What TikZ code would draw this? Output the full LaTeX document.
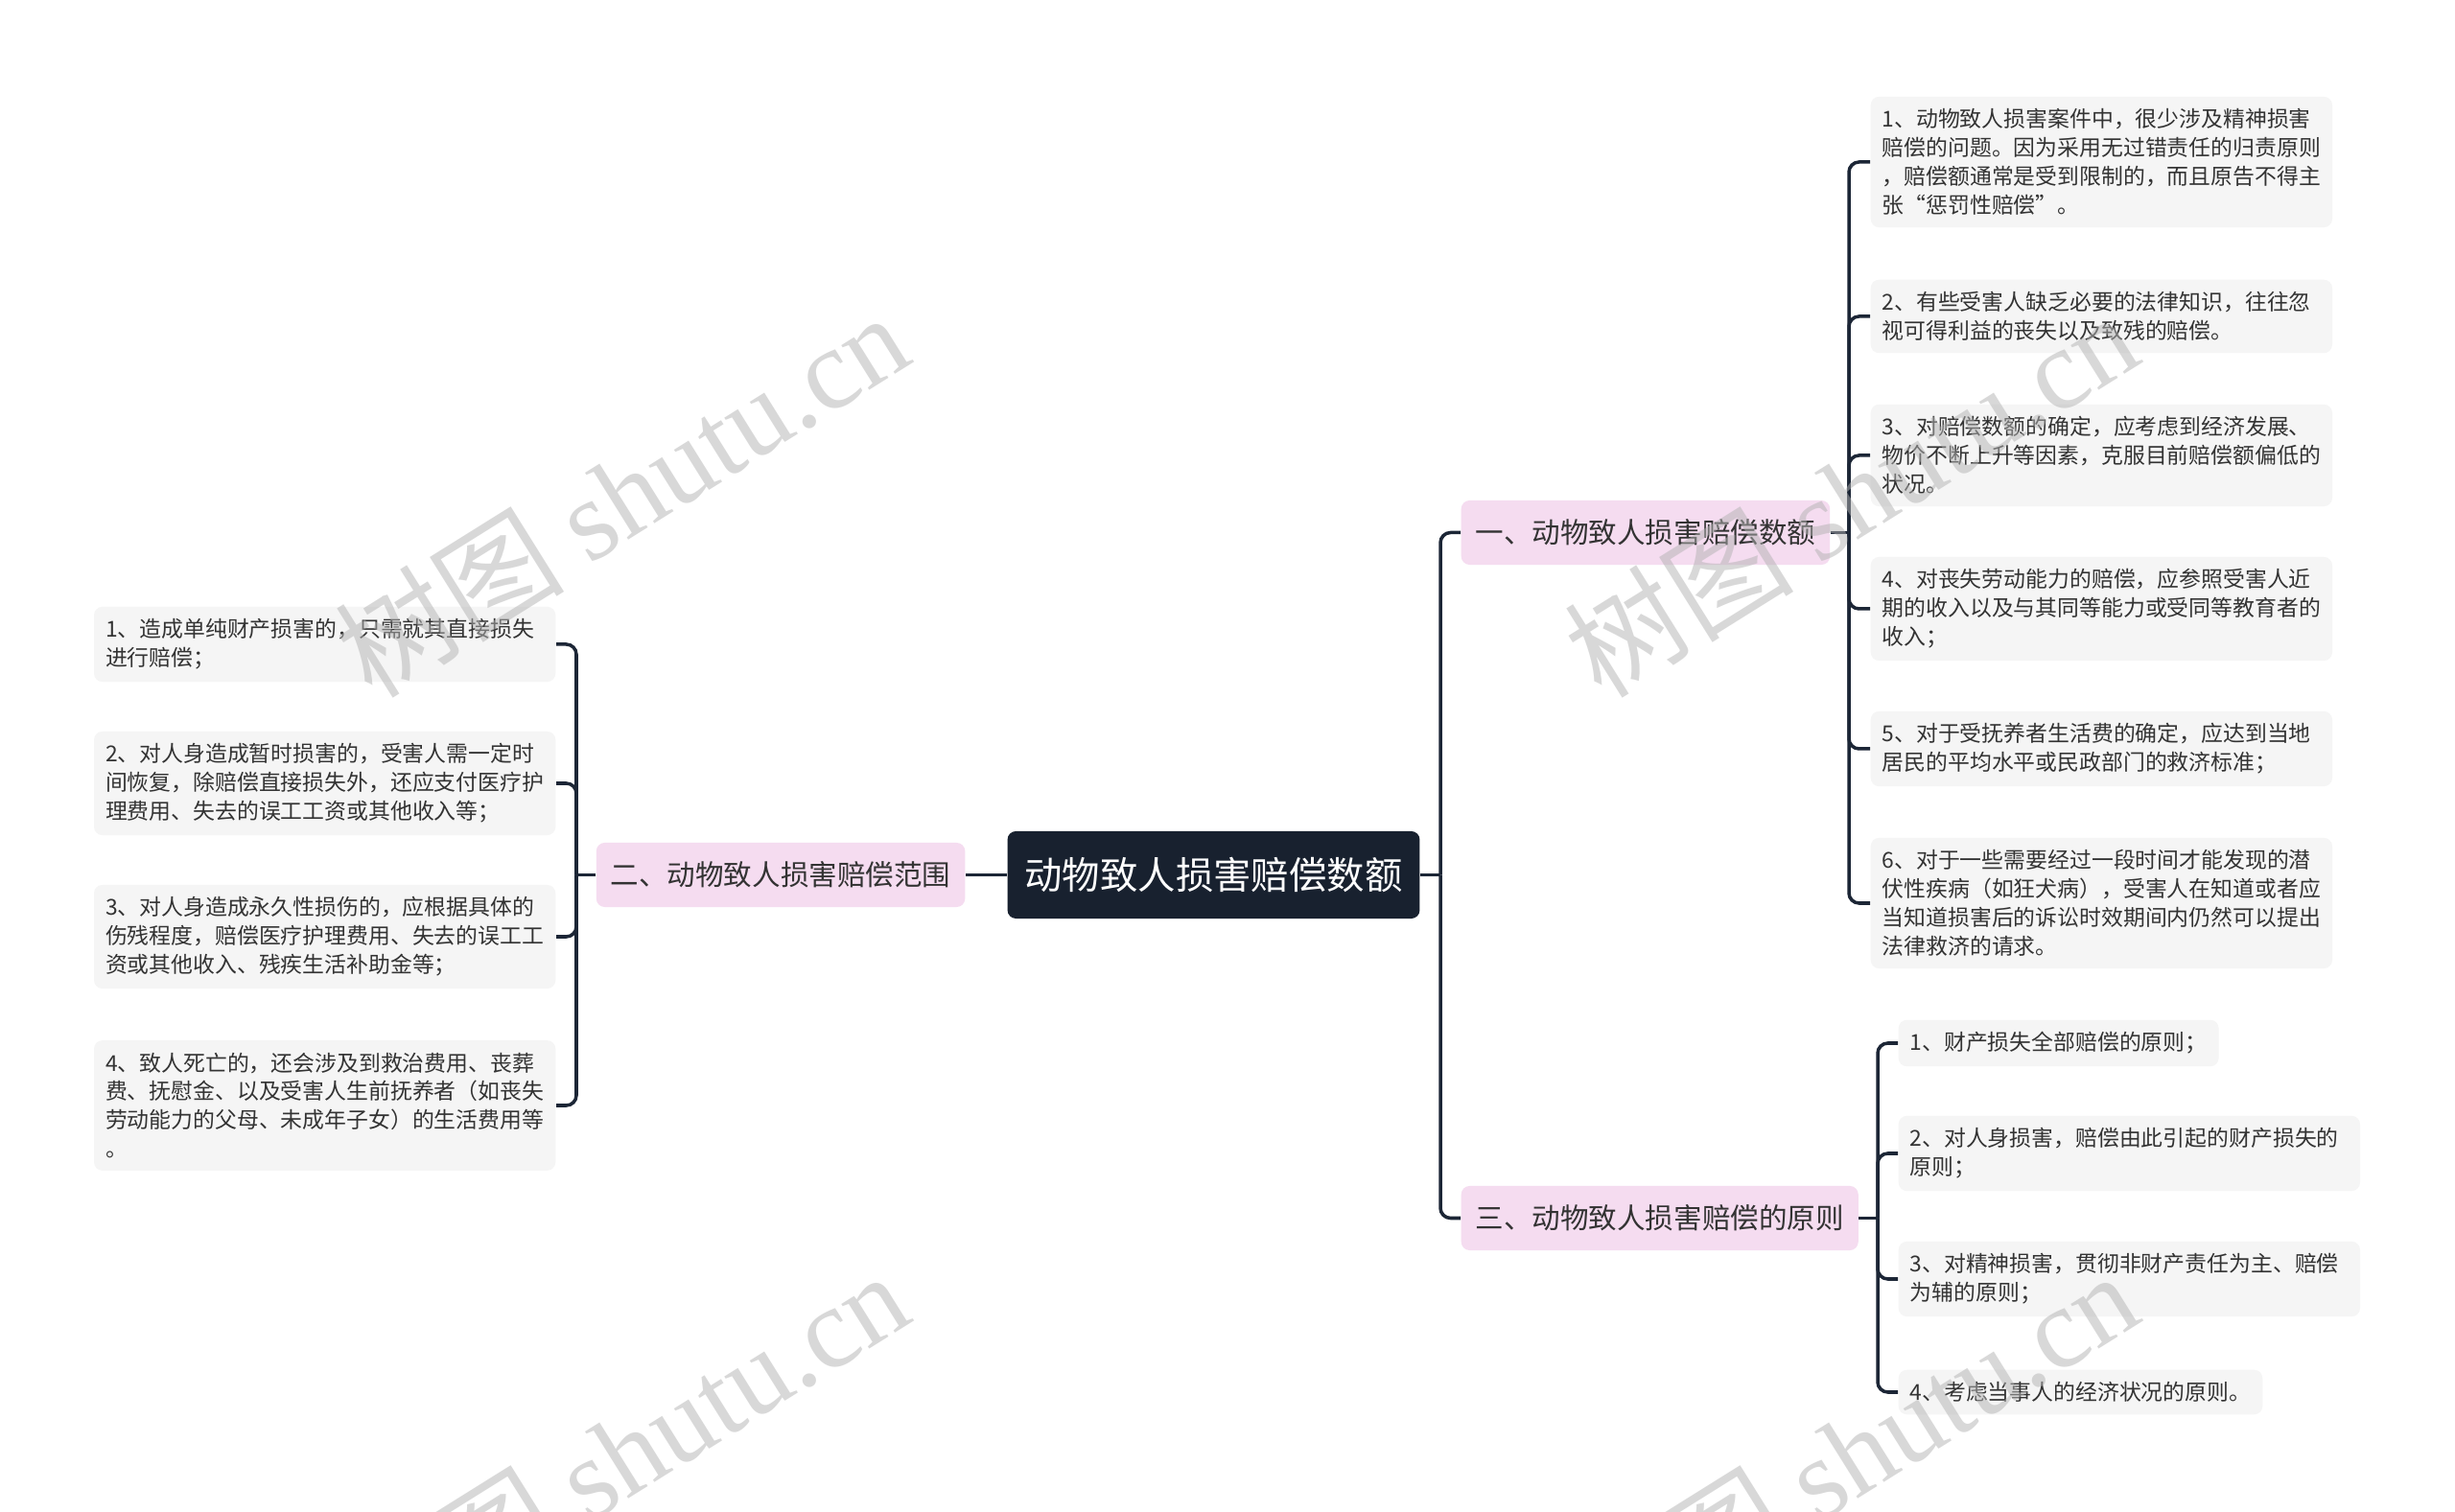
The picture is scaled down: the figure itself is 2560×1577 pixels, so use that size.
\documentclass[tikz,border=0pt]{standalone}
\usepackage{fontspec}
\setmainfont{Noto Sans CJK SC}
\newfontfamily\wmserif{Liberation Serif}
\usepackage{xcolor}
\definecolor{rootnavy}{HTML}{18212F}
\definecolor{topicpink}{HTML}{F5DCF0}
\definecolor{leafgray}{HTML}{F5F5F5}
\definecolor{linknavy}{HTML}{1C2636}
\definecolor{inkgray}{HTML}{333333}

\begin{document}
\begin{tikzpicture}[
  x=0.01cm, y=-0.01cm,
  box/.style={rounded corners=2.5pt, fill=#1},
  leafbox/.style={box=leafgray, text=inkgray, align=left, inner xsep=0.12cm, inner ysep=3.6pt, font=\fontsize{6.5pt}{8.5pt}\selectfont},
  widebox/.style={leafbox, text width=4.57cm},
  topicbox/.style={box=topicpink, text=inkgray, minimum height=0.67cm, inner xsep=0.15cm, font=\fontsize{8.4pt}{10pt}\selectfont},
  rootbox/.style={box=rootnavy, text=white, minimum height=0.91cm, inner xsep=0.18cm, font=\fontsize{11.2pt}{13pt}\selectfont},
  link/.style={draw=linknavy, line width=1pt, rounded corners=3pt},
  wmark/.style={text=gray!60, text opacity=0.5, rotate=32, font=\fontsize{34pt}{40pt}\selectfont}
]
\useasboundingbox[fill=white] (0,0) rectangle (2560,1577);

% centre
\node[rootbox] (root) at (1265.5,912.5) {动物致人损害赔偿数额};

% left branch
\node[topicbox, anchor=east] (b2) at (1007,912.5) {二、动物致人损害赔偿范围};
\node[widebox, anchor=east] (s1) at (580,672) {1、造成单纯财产损害的，只需就其直接损失\\进行赔偿；};
\node[widebox, anchor=east] (s2) at (580,817) {2、对人身造成暂时损害的，受害人需一定时\\间恢复，除赔偿直接损失外，还应支付医疗护\\理费用、失去的误工工资或其他收入等；};
\node[widebox, anchor=east] (s3) at (580,977) {3、对人身造成永久性损伤的，应根据具体的\\伤残程度，赔偿医疗护理费用、失去的误工工\\资或其他收入、残疾生活补助金等；};
\node[widebox, anchor=east] (s4) at (580,1153) {4、致人死亡的，还会涉及到救治费用、丧葬\\费、抚慰金、以及受害人生前抚养者（如丧失\\劳动能力的父母、未成年子女）的生活费用等\\。};

% right branch, top
\node[topicbox, anchor=west] (b1) at (1523,555.5) {一、动物致人损害赔偿数额};
\node[widebox, anchor=west] (l1) at (1950,169) {1、动物致人损害案件中，很少涉及精神损害\\赔偿的问题。因为采用无过错责任的归责原则\\，赔偿额通常是受到限制的，而且原告不得主\\张“惩罚性赔偿”。};
\node[widebox, anchor=west] (l2) at (1950,330) {2、有些受害人缺乏必要的法律知识，往往忽\\视可得利益的丧失以及致残的赔偿。};
\node[widebox, anchor=west] (l3) at (1950,475) {3、对赔偿数额的确定，应考虑到经济发展、\\物价不断上升等因素，克服目前赔偿额偏低的\\状况。};
\node[widebox, anchor=west] (l4) at (1950,635) {4、对丧失劳动能力的赔偿，应参照受害人近\\期的收入以及与其同等能力或受同等教育者的\\收入；};
\node[widebox, anchor=west] (l5) at (1950,781) {5、对于受抚养者生活费的确定，应达到当地\\居民的平均水平或民政部门的救济标准；};
\node[widebox, anchor=west] (l6) at (1950,942) {6、对于一些需要经过一段时间才能发现的潜\\伏性疾病（如狂犬病），受害人在知道或者应\\当知道损害后的诉讼时效期间内仍然可以提出\\法律救济的请求。};

% right branch, bottom
\node[topicbox, anchor=west] (b3) at (1523,1270.5) {三、动物致人损害赔偿的原则};
\node[leafbox, anchor=west] (p1) at (1979,1088) {1、财产损失全部赔偿的原则；};
\node[widebox, anchor=west] (p2) at (1979,1203) {2、对人身损害，赔偿由此引起的财产损失的\\原则；};
\node[widebox, anchor=west] (p3) at (1979,1334) {3、对精神损害，贯彻非财产责任为主、赔偿\\为辅的原则；};
\node[leafbox, anchor=west] (p4) at (1979,1452) {4、考虑当事人的经济状况的原则。};

% connectors
\coordinate (trunk) at (1502,912.5);
\coordinate (lfork) at (601,912.5);
\coordinate (rfork1) at (1928,555.5);
\coordinate (rfork3) at (1958,1270.5);

\draw[link] (root.west) -- (b2.east);
\draw[link] (root.east) -- (trunk);
\draw[link] (trunk) |- (b1.west);
\draw[link] (trunk) |- (b3.west);

\draw[link] (b2.west) -- (lfork);
\foreach \n in {1,...,4}
  \draw[link] (lfork) |- (s\n.east);

\draw[link] (b1.east) -- (rfork1);
\foreach \n in {1,...,6}
  \draw[link] (rfork1) |- (l\n.west);

\draw[link] (b3.east) -- (rfork3);
\foreach \n in {1,...,4}
  \draw[link] (rfork3) |- (p\n.west);

% watermarks
\node[wmark] (wm1) at (648,515) {树图 {\wmserif shutu.cn}};
\node[wmark] (wm2) at (1930,515) {树图 {\wmserif shutu.cn}};
\node[wmark] (wm3) at (648,1515) {树图 {\wmserif shutu.cn}};
\node[wmark] (wm4) at (1930,1515) {树图 {\wmserif shutu.cn}};
\end{tikzpicture}
\end{document}
